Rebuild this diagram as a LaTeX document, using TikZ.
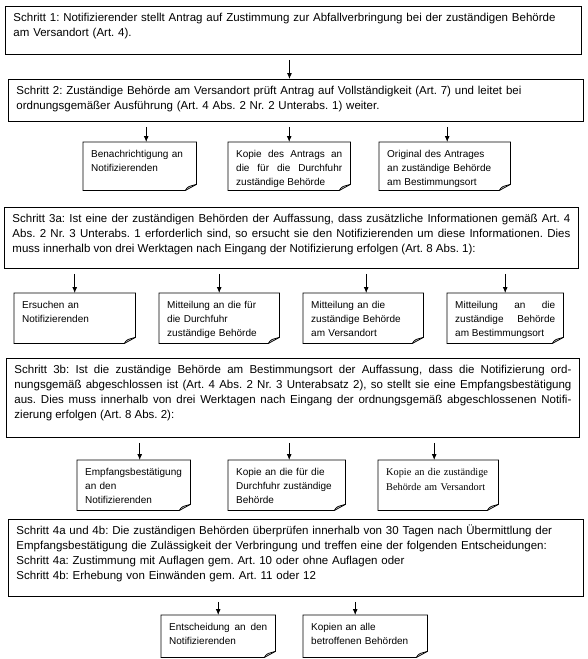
\documentclass[tikz,border=0pt]{standalone}
\usepackage{fontspec}
\setmainfont{Liberation Sans}
\newfontfamily\serifdoc{Liberation Serif}
\usetikzlibrary{arrows.meta,calc}
\frenchspacing
\newcommand\mainfnt{\fontsize{11.5}{15}\selectfont}
\newcommand\docfnt{\fontsize{10}{14}\selectfont}
\tikzset{
  stepbox/.style={draw, line width=0.9pt, anchor=north west, inner xsep=8pt, inner ysep=0pt, font=\mainfnt, text height=15pt},
  docbox/.style={draw=none, anchor=north west, inner xsep=8pt, inner ysep=0pt, font=\docfnt, text height=15pt},
  docline/.style={line width=0.8pt, line join=miter},
  arr/.style={-{Latex[length=6pt,width=5pt]}, line width=0.8pt, shorten <=5pt},
}
\newcommand\docoutline[1]{%
  \draw[docline] (#1.north west) -- (#1.north east) -- ($(#1.south east)+(0,-6)$) -- ($(#1.south east)+(-11,0)$) -- (#1.south west) -- cycle;
  \draw[docline] ($(#1.south east)+(-11,0)$) .. controls ($(#1.south east)+(-9,-3)$) .. ($(#1.south east)+(-7,-4)$) -- ($(#1.south east)+(0,-6)$);
}
\begin{document}
\begin{tikzpicture}[x=1pt,y=-1pt]
\useasboundingbox (0,0) rectangle (588,659);
% main step boxes
\node[stepbox, align=left, text width=560pt, text depth=33pt] (s1) at (5,6)
  {Schritt 1: Notifizierender stellt Antrag auf Zustimmung zur Abfallverbringung bei der zuständigen Behörde\\am Versandort (Art. 4).};
\node[stepbox, align=left, text width=559pt, text depth=27pt] (s2) at (8,79)
  {Schritt 2: Zuständige Behörde am Versandort prüft Antrag auf Vollständigkeit (Art. 7) und leitet bei\\ordnungsgemäßer Ausführung (Art. 4 Abs. 2 Nr. 2 Unterabs. 1) weiter.};
\node[stepbox, align=justify, text width=558pt, text depth=46pt] (s3a) at (4,207)
  {Schritt 3a: Ist eine der zuständigen Behörden der Auffassung, dass zusätzliche Informationen gemäß Art. 4\linebreak Abs. 2 Nr. 3 Unterabs. 1 erforderlich sind, so ersucht sie den Notifizierenden um diese Informationen. Dies\linebreak muss innerhalb von drei Werktagen nach Eingang der Notifizierung erfolgen (Art. 8 Abs. 1):};
\node[stepbox, align=justify, text width=557pt, text depth=64pt] (s3b) at (6,358)
  {Schritt 3b: Ist die zuständige Behörde am Bestimmungsort der Auffassung, dass die Notifizierung ord-\linebreak nungsgemäß abgeschlossen ist (Art. 4 Abs. 2 Nr. 3 Unterabsatz 2), so stellt sie eine Empfangsbestätigung\linebreak aus. Dies muss innerhalb von drei Werktagen nach Eingang der ordnungsgemäß abgeschlossenen Notifi-\linebreak zierung erfolgen (Art. 8 Abs. 2):};
\node[stepbox, align=left, text width=559pt, text depth=62pt] (s4) at (8,519)
  {Schritt 4a und 4b: Die zuständigen Behörden überprüfen innerhalb von 30 Tagen nach Übermittlung der\\Empfangsbestätigung die Zulässigkeit der Verbringung und treffen eine der folgenden Entscheidungen:\\Schritt 4a: Zustimmung mit Auflagen gem. Art. 10 oder ohne Auflagen oder\\Schritt 4b: Erhebung von Einwänden gem. Art. 11 oder 12};
% row 1 documents
\node[docbox, align=left, text width=97pt, text depth=33pt] (d11) at (83,142) {Benachrichtigung an\\Notifizierenden};
\node[docbox, align=justify, text width=106pt, text depth=33pt] (d12) at (228,142) {Kopie des Antrags an\linebreak die für die Durchfuhr\linebreak zuständige Behörde};
\node[docbox, align=left, text width=115pt, text depth=33pt] (d13) at (379,142) {Original des Antrages\\an zuständige Behörde\\am Bestimmungsort};
% row 2 documents
\node[docbox, align=left, text width=105pt, text depth=35pt] (d21) at (14,293) {Ersuchen an\\Notifizierenden};
\node[docbox, align=left, text width=104pt, text depth=35pt] (d22) at (159,293) {Mitteilung an die für\\die Durchfuhr\\zuständige Behörde};
\node[docbox, align=left, text width=104pt, text depth=35pt] (d23) at (303,293) {Mitteilung an die\\zuständige Behörde\\am Versandort};
\node[docbox, align=justify, text width=100pt, text depth=35pt] (d24) at (447,293) {Mitteilung an die\linebreak zuständige Behörde\linebreak am Bestimmungsort};
% row 3 documents
\node[docbox, align=left, text width=97pt, text depth=35pt] (d31) at (77,460) {Empfangsbestätigung\\an den\\Notifizierenden};
\node[docbox, align=left, text width=101pt, text depth=35pt] (d32) at (228,460) {Kopie an die für die\\Durchfuhr zuständige\\Behörde};
\node[docbox, align=left, text width=104pt, text depth=35pt, font=\serifdoc\fontsize{10.3}{15}\selectfont] (d33) at (378,460) {Kopie an die zuständige\\Behörde am Versandort};
% row 4 documents
\node[docbox, align=justify, text width=98pt, text depth=27pt] (d41) at (161,615) {Entscheidung an den\linebreak Notifizierenden};
\node[docbox, align=left, text width=108pt, text depth=27pt] (d42) at (303,615) {Kopien an alle\\betroffenen Behörden};
\foreach \n in {d11,d12,d13,d21,d22,d23,d24,d31,d32,d33,d41,d42} {\docoutline{\n}}
% connectors
\draw[arr] ($(s1.south)+(-4,0)$) -- ($(s2.north -| s1.south)+(-4,0)$);
\draw[arr] ($(s2.south -| d11.north)+(6.5,0)$) -- ($(d11.north)+(6.5,0)$);
\draw[arr] (s2.south -| d12.north) -- (d12.north);
\draw[arr] ($(s2.south -| d13.north)+(2.5,0)$) -- ($(d13.north)+(2.5,0)$);
\draw[arr] (s3a.south -| d21.north) -- (d21.north);
\draw[arr] (s3a.south -| d22.north) -- (d22.north);
\draw[arr] ($(s3a.south -| d23.north)+(3,0)$) -- ($(d23.north)+(3,0)$);
\draw[arr] (s3a.south -| d24.north) -- (d24.north);
\draw[arr] ($(s3b.south -| d31.north)+(6,0)$) -- ($(d31.north)+(6,0)$);
\draw[arr] ($(s3b.south -| d32.north)+(2.5,0)$) -- ($(d32.north)+(2.5,0)$);
\draw[arr] ($(s3b.south -| d33.north)+(-4,0)$) -- ($(d33.north)+(-4,0)$);
\draw[arr] (s4.south -| d41.north) -- (d41.north);
\draw[arr] ($(s4.south -| d42.north)+(-10,0)$) -- ($(d42.north)+(-10,0)$);
\end{tikzpicture}
\end{document}
